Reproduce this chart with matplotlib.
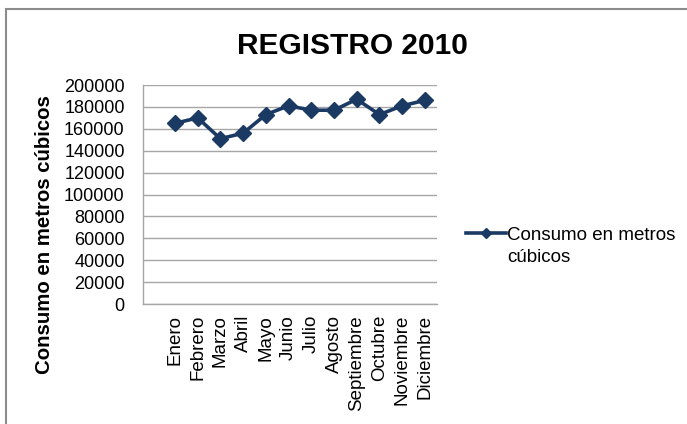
"""Consumo mensual de agua, registro 2010"""
import matplotlib
matplotlib.use("Agg")
import matplotlib.pyplot as plt
from matplotlib.patches import Rectangle

plt.rcParams["font.family"] = ["Liberation Sans", "DejaVu Sans"]

meses = ["Enero", "Febrero", "Marzo", "Abril", "Mayo", "Junio", "Julio",
         "Agosto", "Septiembre", "Octubre", "Noviembre", "Diciembre"]
consumo = [165000, 170000, 151000, 156000, 173000, 181000, 177000,
           177000, 187000, 173000, 181000, 186000]
yticks = list(range(0, 200001, 20000))

azul = "#1b3a63"
gris = "#a6a6a6"

fig = plt.figure(figsize=(6.87, 4.24), dpi=100)
ax = fig.add_axes([0.2077, 0.283, 0.4283, 0.5165])

# outer chart frame
fig.patches.append(Rectangle((6 / 687, -0.5), 2, 1.5 - 9 / 424,
                             transform=fig.transFigure, fill=False,
                             edgecolor="#8c8c8c", linewidth=1.5))

x = list(range(len(meses)))
ax.plot(x, consumo, color=azul, linewidth=2.6, marker="D", markersize=8.5,
        label="Consumo en metros")

ax.set_xlim(-1.42, 11.53)
ax.set_ylim(0, 200000)
ax.set_yticks(yticks)
ax.set_yticklabels([str(v) for v in yticks], fontsize=13)
ax.set_xticks(x)
ax.set_xticklabels(meses, rotation=90, fontsize=13.5)
ax.tick_params(axis="both", length=0)
ax.tick_params(axis="x", pad=8)
ax.tick_params(axis="y", pad=13)

ax.grid(axis="y", color=gris, linewidth=1)
ax.set_axisbelow(True)
for side in ["top", "right"]:
    ax.spines[side].set_visible(False)
for side in ["left", "bottom"]:
    ax.spines[side].set_color(gris)
    ax.spines[side].set_linewidth(1)

fig.text(352 / 687, 1 - 46 / 424, "REGISTRO 2010", fontsize=21.5,
         fontweight="bold", ha="center", va="center")
fig.text(45 / 687, 1 - 235 / 424, "Consumo en metros cúbicos", fontsize=14.7,
         fontweight="bold", rotation=90, ha="center", va="center")

leg = ax.legend(loc="center left", bbox_to_anchor=(466 / 687, 1 - 235 / 424),
                bbox_transform=fig.transFigure, frameon=False, fontsize=13.5,
                handlelength=2.15, handletextpad=0.05, borderpad=0,
                borderaxespad=0, markerscale=0.55)

# second line of the legend label, under the first one
fig.canvas.draw()
bb = leg.get_texts()[0].get_window_extent().transformed(fig.transFigure.inverted())
fig.text(bb.x0, bb.y0 - 5 / 424, "cúbicos", fontsize=13.5, ha="left", va="top")

fig.savefig("out.png", dpi=100)
